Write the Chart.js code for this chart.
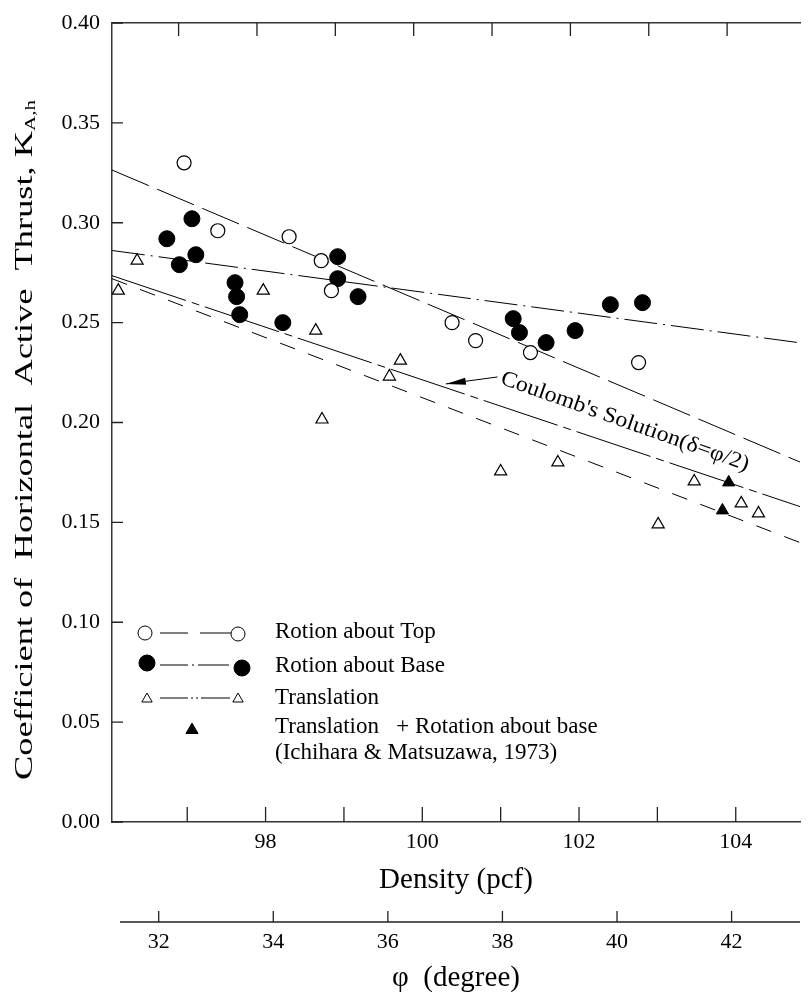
<!DOCTYPE html>
<html>
<head>
<meta charset="utf-8">
<script src="https://cdn.jsdelivr.net/npm/chart.js@4.4.1/dist/chart.umd.min.js"></script>
<style>
  html, body { margin: 0; padding: 0; background: #fff; }
</style>
</head>
<body>
<canvas id="chart" width="809" height="996"></canvas>
<script>
// Rotation about top (open circles)
const topDensity = [96.96, 97.39, 98.30, 98.71, 98.84, 100.38, 100.68, 101.38, 102.76];
const topK       = [0.330, 0.296, 0.293, 0.281, 0.266, 0.250, 0.241, 0.235, 0.230];

// Rotation about base (filled circles)
const baseDensity = [96.74, 96.90, 97.06, 97.11, 97.61, 97.63, 97.67, 98.22, 98.92, 98.92, 99.18,
                     101.16, 101.24, 101.58, 101.95, 102.40, 102.81];
const baseK       = [0.292, 0.279, 0.302, 0.284, 0.270, 0.263, 0.254, 0.250, 0.283, 0.272, 0.263,
                     0.252, 0.245, 0.240, 0.246, 0.259, 0.260];

// Translation (open triangles)
const transDensity = [96.12, 96.36, 97.97, 98.64, 98.72, 99.58, 99.72, 101.00, 101.73, 103.01, 103.47, 104.07, 104.29];
const transK       = [0.266, 0.281, 0.266, 0.246, 0.2015, 0.223, 0.231, 0.1755, 0.180, 0.149, 0.1705, 0.1595, 0.1545];

// Translation + rotation about base (filled triangles)
const comboDensity = [103.91, 103.83];
const comboK       = [0.170, 0.156];

// Fitted lines and Coulomb's solution, end points at the plot edges
const lineDensity = [96.04, 104.82];
const topFitK     = [0.3264, 0.1802];
const baseFitK    = [0.2861, 0.2399];
const coulombK    = [0.2735, 0.1579];
const transFitK   = [0.2720, 0.1399];

// Axes
const xRange = [96.04, 104.82];
const densityTicks = [97, 98, 99, 100, 101, 102, 103, 104];
const densityLabels = [98, 100, 102, 104];
const phiRange = [31.185, 43.194];
const phiTicks = [32, 34, 36, 38, 40, 42];
const yTicks = [0, 0.05, 0.10, 0.15, 0.20, 0.25, 0.30, 0.35, 0.40];

// Coulomb label anchor and arrow (data units)
const coulombText = "Coulomb's Solution(\u03b4=\u03c6/2)";
const coulombTextAt = [101.01, 0.2223];
const coulombArrowFrom = [100.96, 0.2228];
const coulombArrowTo = [100.30, 0.2193];

const serif = '"Liberation Serif", "Times New Roman", serif';

function pts(xs, ys) {
    return xs.map((x, i) => ({ x: x, y: ys[i] }));
}

function drawMarker(ctx, kind, x, y, r, filled) {
    ctx.beginPath();
    if (kind === 'circle') {
        ctx.arc(x, y, r, 0, Math.PI * 2);
    } else {
        const s = Math.sin(Math.PI / 3) * r;
        ctx.moveTo(x, y - r);
        ctx.lineTo(x + s, y + r / 2);
        ctx.lineTo(x - s, y + r / 2);
        ctx.closePath();
    }
    ctx.fillStyle = filled ? '#000' : '#fff';
    ctx.fill();
    ctx.stroke();
}

function seg(ctx, x1, x2, y) {
    ctx.moveTo(x1, y);
    ctx.lineTo(x2, y);
}

// Inward ticks, second axis, y title, legend, annotation
const decor = {
    id: 'decor',
    afterDraw(chart) {
        const { ctx, chartArea: a, scales } = chart;
        ctx.save();

        // tick marks
        ctx.strokeStyle = '#222';
        ctx.lineWidth = 1.3;
        ctx.beginPath();
        densityTicks.forEach(v => {
            const px = scales.x.getPixelForValue(v);
            ctx.moveTo(px, a.bottom);
            ctx.lineTo(px, a.bottom - 15);
            const px2 = scales.x2.getPixelForValue(v);
            ctx.moveTo(px2, a.top);
            ctx.lineTo(px2, a.top + 13);
        });
        yTicks.forEach(v => {
            const py = scales.y.getPixelForValue(v);
            ctx.moveTo(a.left, py);
            ctx.lineTo(a.left + 11, py);
        });
        const phiY = scales.phi.top;
        ctx.moveTo(a.left + 8, phiY);
        ctx.lineTo(a.right, phiY);
        phiTicks.forEach(v => {
            const px = scales.phi.getPixelForValue(v);
            ctx.moveTo(px, phiY);
            ctx.lineTo(px, phiY - 11);
        });
        ctx.stroke();

        // y axis title with subscript
        ctx.fillStyle = '#000';
        ctx.save();
        ctx.translate(25, 440);
        ctx.rotate(-Math.PI / 2);
        ctx.font = '26px ' + serif;
        const main = 'Coefficient of  Horizontal  Active  Thrust, K';
        const wMain = ctx.measureText(main).width;
        ctx.font = '15px ' + serif;
        const wSub = ctx.measureText('A,h').width;
        const total = wMain + wSub;
        ctx.scale(680 / total, 1);
        ctx.textBaseline = 'middle';
        ctx.textAlign = 'left';
        ctx.font = '26px ' + serif;
        ctx.fillText(main, -total / 2, 0);
        ctx.font = '15px ' + serif;
        ctx.fillText('A,h', -total / 2 + wMain, 6);
        ctx.restore();

        // legend
        ctx.lineWidth = 1;
        ctx.strokeStyle = '#000';
        drawMarker(ctx, 'circle', 145, 633, 7, false);
        drawMarker(ctx, 'circle', 238, 634, 7, false);
        drawMarker(ctx, 'circle', 147, 663, 8, true);
        drawMarker(ctx, 'circle', 242, 668, 8, true);
        drawMarker(ctx, 'triangle', 147, 699, 6, false);
        drawMarker(ctx, 'triangle', 238, 699, 6, false);
        drawMarker(ctx, 'triangle', 192, 730, 7, true);
        ctx.beginPath();
        seg(ctx, 160, 188, 633); seg(ctx, 200, 231, 633);
        seg(ctx, 160, 188, 665); seg(ctx, 192, 194, 665); seg(ctx, 198, 229, 665);
        seg(ctx, 160, 188, 698); seg(ctx, 191, 193, 698); seg(ctx, 196, 198, 698); seg(ctx, 201, 230, 698);
        ctx.stroke();

        ctx.font = '23px ' + serif;
        ctx.textBaseline = 'middle';
        ctx.textAlign = 'left';
        ctx.fillText('Rotion about Top', 275, 632);
        ctx.fillText('Rotion about Base', 275, 666);
        ctx.fillText('Translation', 275, 698);
        ctx.fillText('Translation   + Rotation about base', 275, 727);
        ctx.fillText('(Ichihara & Matsuzawa, 1973)', 275, 753);

        // Coulomb annotation
        const tx = scales.x.getPixelForValue(coulombTextAt[0]);
        const ty = scales.y.getPixelForValue(coulombTextAt[1]);
        ctx.save();
        ctx.translate(tx, ty);
        ctx.rotate(19.5 * Math.PI / 180);
        ctx.font = '22px ' + serif;
        const wc = ctx.measureText(coulombText).width;
        ctx.scale(262 / wc, 1);
        ctx.fillText(coulombText, 0, 0);
        ctx.restore();

        const ax1 = scales.x.getPixelForValue(coulombArrowFrom[0]);
        const ay1 = scales.y.getPixelForValue(coulombArrowFrom[1]);
        const ax2 = scales.x.getPixelForValue(coulombArrowTo[0]);
        const ay2 = scales.y.getPixelForValue(coulombArrowTo[1]);
        const ang = Math.atan2(ay2 - ay1, ax2 - ax1);
        ctx.beginPath();
        ctx.moveTo(ax1, ay1);
        ctx.lineTo(ax2, ay2);
        ctx.stroke();
        ctx.beginPath();
        ctx.moveTo(ax2, ay2);
        ctx.lineTo(ax2 - 20 * Math.cos(ang) + 3.5 * Math.sin(ang), ay2 - 20 * Math.sin(ang) - 3.5 * Math.cos(ang));
        ctx.lineTo(ax2 - 20 * Math.cos(ang) - 3.5 * Math.sin(ang), ay2 - 20 * Math.sin(ang) + 3.5 * Math.cos(ang));
        ctx.closePath();
        ctx.fill();

        ctx.restore();
    }
};

const lineStyle = { showLine: true, pointRadius: 0, borderColor: '#000', borderWidth: 1, fill: false, order: 2, xAxisID: 'x' };
const noGrid = { display: false, drawTicks: false };

new Chart(document.getElementById('chart').getContext('2d'), {
    type: 'scatter',
    data: {
        datasets: [
            { label: 'Rotion about Top', data: pts(topDensity, topK), xAxisID: 'x', pointStyle: 'circle',
              pointRadius: 7, backgroundColor: '#fff', borderColor: '#000', borderWidth: 1.2, order: 1 },
            { label: 'Rotion about Base', data: pts(baseDensity, baseK), xAxisID: 'x', pointStyle: 'circle',
              pointRadius: 8, backgroundColor: '#000', borderColor: '#000', borderWidth: 1, order: 1 },
            { label: 'Translation', data: pts(transDensity, transK), xAxisID: 'x', pointStyle: 'triangle',
              pointRadius: 7, backgroundColor: '#fff', borderColor: '#000', borderWidth: 1.2, order: 1 },
            { label: 'Translation + Rotation about base', data: pts(comboDensity, comboK), xAxisID: 'x', pointStyle: 'triangle',
              pointRadius: 7, backgroundColor: '#000', borderColor: '#000', borderWidth: 1, order: 1 },
            Object.assign({ label: 'Top fit', data: pts(lineDensity, topFitK), borderDash: [40, 9] }, lineStyle),
            Object.assign({ label: 'Base fit', data: pts(lineDensity, baseFitK), borderDash: [33, 6, 2, 6] }, lineStyle),
            Object.assign({ label: "Coulomb's Solution", data: pts(lineDensity, coulombK), borderDash: [78, 6, 8, 6] }, lineStyle),
            Object.assign({ label: 'Translation fit', data: pts(lineDensity, transFitK), borderDash: [16, 14] }, lineStyle)
        ]
    },
    options: {
        responsive: false,
        animation: false,
        layout: { padding: { top: 16, left: 0, right: 0, bottom: 0 } },
        plugins: {
            legend: { display: false },
            tooltip: { enabled: false }
        },
        scales: {
            x: {
                type: 'linear', axis: 'x', position: 'bottom', weight: 0,
                min: xRange[0], max: xRange[1],
                afterBuildTicks: s => { s.ticks = densityTicks.map(v => ({ value: v })); },
                afterFit: s => { s.height = 100; },
                ticks: {
                    callback: v => densityLabels.includes(v) ? String(v) : '',
                    font: { family: serif, size: 22, lineHeight: 1 }, color: '#000',
                    padding: 9, maxRotation: 0, autoSkip: false
                },
                grid: noGrid,
                border: { display: true, color: '#333', width: 1.5 },
                title: { display: true, text: 'Density (pcf)', color: '#000',
                         font: { family: serif, size: 29, lineHeight: 1 }, padding: { top: 12.5, bottom: 27.5 } }
            },
            phi: {
                type: 'linear', axis: 'x', position: 'bottom', weight: 1,
                min: phiRange[0], max: phiRange[1],
                afterBuildTicks: s => { s.ticks = phiTicks.map(v => ({ value: v })); },
                afterFit: s => { s.height = 74; },
                ticks: {
                    font: { family: serif, size: 22, lineHeight: 1 }, color: '#000',
                    padding: 9, maxRotation: 0, autoSkip: false
                },
                grid: noGrid,
                border: { display: false },
                title: { display: true, text: '\u03c6  (degree)', color: '#000',
                         font: { family: serif, size: 29, lineHeight: 1 }, padding: { top: 10.5, bottom: 3.5 } }
            },
            x2: {
                type: 'linear', axis: 'x', position: 'top',
                min: xRange[0] + 0.11, max: xRange[1] + 0.11,
                afterFit: s => { s.height = 0; },
                ticks: { display: false },
                grid: noGrid,
                border: { display: true, color: '#333', width: 1.5 }
            },
            y: {
                type: 'linear', position: 'left', min: 0, max: 0.4,
                afterBuildTicks: s => { s.ticks = yTicks.map(v => ({ value: v })); },
                afterFit: s => { s.width = 112; },
                ticks: {
                    callback: v => v.toFixed(2),
                    font: { family: serif, size: 22, lineHeight: 1 }, color: '#000', padding: 12
                },
                grid: noGrid,
                border: { display: true, color: '#333', width: 1.5 }
            }
        }
    },
    plugins: [decor]
});
</script>
</body>
</html>
